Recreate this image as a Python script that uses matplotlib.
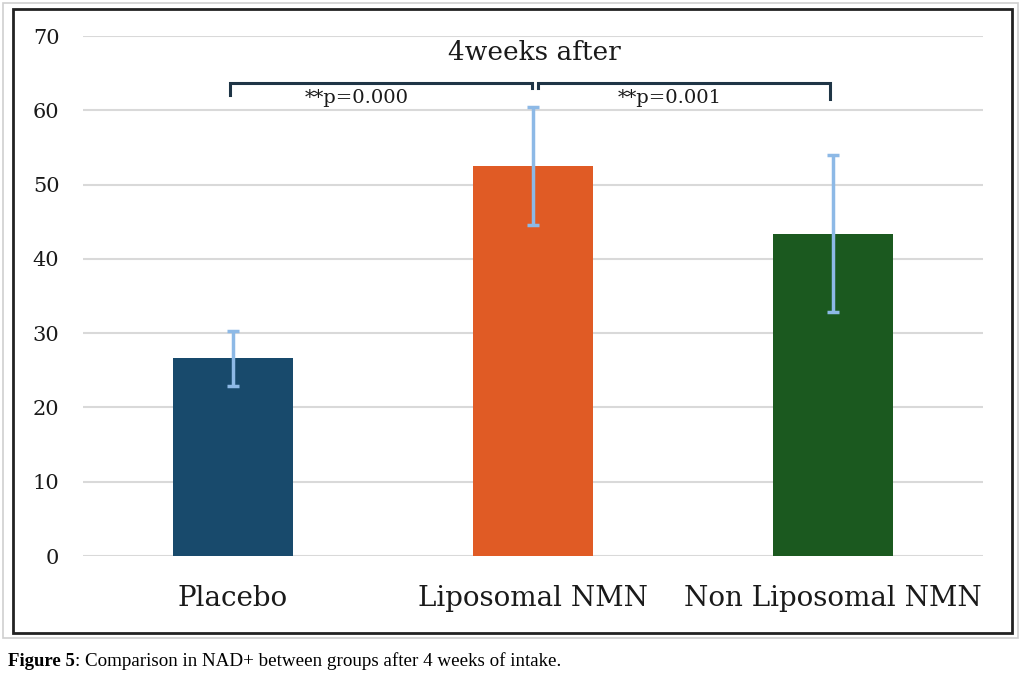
import numpy as np
import matplotlib.pyplot as plt
from matplotlib.patches import Rectangle

groups = ["Placebo", "Liposomal NMN", "Non Liposomal NMN"]
nad = [26.6, 52.5, 43.4]
sd = [3.75, 8.0, 10.6]
colors = ["#184a6c", "#e05b25", "#1b591f"]

pvals = ["**p=0.000", "**p=0.001"]
yticks = [0, 10, 20, 30, 40, 50, 60, 70]

W, H = 1024, 677
fig = plt.figure(figsize=(W / 100, H / 100), dpi=100)
ax = fig.add_axes([83 / W, 1 - 556 / H, 900 / W, 520 / H])

x = np.arange(len(groups))
ax.bar(x, nad, width=0.4, color=colors, zorder=2)
ax.errorbar(x, nad, yerr=sd, fmt="none", ecolor="#8db9e6", elinewidth=2.5,
            capsize=4.5, capthick=2.5, zorder=3)

ax.set_xlim(-0.5, 2.5)
ax.set_ylim(0, 70)
ax.set_yticks(yticks)
ax.yaxis.grid(True, color="#d9d9d9", linewidth=1.5, zorder=0)
ax.set_axisbelow(True)
for s in ax.spines.values():
    s.set_visible(False)
ax.tick_params(length=0, labelcolor="#1a1a1a")
ax.tick_params(axis="y", pad=17, labelsize=15)
ax.tick_params(axis="x", pad=21, labelsize=20)
ax.set_xticks(x)
ax.set_xticklabels(groups)
for lab in ax.get_xticklabels() + ax.get_yticklabels():
    lab.set_family("DejaVu Serif")

# significance brackets
bc = "#1f3546"
ax.plot([-0.01, -0.01, 0.997, 0.997], [62.0, 63.7, 63.7, 63.0], color=bc, lw=2.2,
        solid_joinstyle="miter", clip_on=False)
ax.plot([1.017, 1.017, 1.99, 1.99], [63.0, 63.7, 63.7, 61.5], color=bc, lw=2.2,
        solid_joinstyle="miter", clip_on=False)
ax.text(0.413, 61.6, pvals[0], ha="center", va="center", fontsize=14,
        family="DejaVu Serif", color="#1a1a1a")
ax.text(1.457, 61.6, pvals[1], ha="center", va="center", fontsize=14,
        family="DejaVu Serif", color="#1a1a1a")
ax.text(1.003, 67.8, "4weeks after", ha="center", va="center", fontsize=19,
        family="DejaVu Serif", color="#1a1a1a")

# frame around the chart
fig.patches.append(Rectangle((3 / W, 1 - 638 / H), 1015 / W, 635 / H,
                             transform=fig.transFigure, fill=False,
                             ec="#cfcfcf", lw=1.2))
fig.patches.append(Rectangle((13 / W, 1 - 633 / H), 999 / W, 624 / H,
                             transform=fig.transFigure, fill=False,
                             ec="#222222", lw=2.0))

t1 = fig.text(8 / W, 1 - 666 / H, "Figure 5", fontsize=13.5, fontweight="bold",
              family="Liberation Serif", va="baseline")
ax.annotate(": Comparison in NAD+ between groups after 4 weeks of intake.",
            xy=(1, 0), xycoords=t1, va="bottom", ha="left", fontsize=13.7,
            family="Liberation Serif", annotation_clip=False)

fig.savefig("out.png", dpi=100)
